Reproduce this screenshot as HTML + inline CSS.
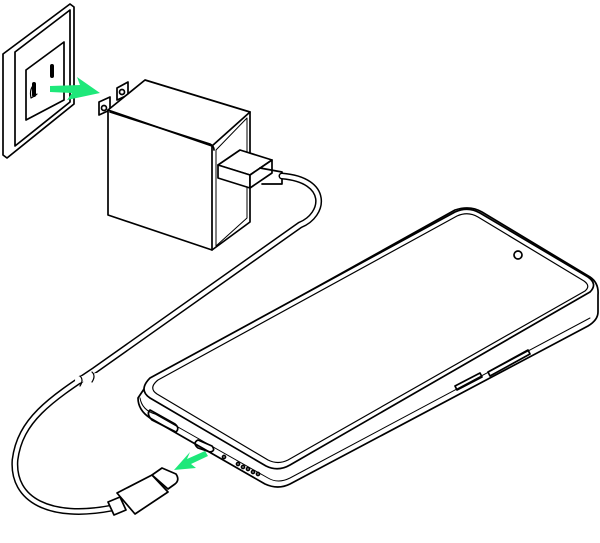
<!DOCTYPE html>
<html><head><style>html,body{margin:0;padding:0;background:#fff}svg{display:block}</style></head><body>
<svg width="600" height="543" viewBox="0 0 600 543" xmlns="http://www.w3.org/2000/svg" fill="none" stroke="#000" stroke-width="1.7" stroke-linejoin="round" stroke-linecap="round">
<!-- outlet plate -->
<path d="M3,54 L70,4 L74,7 L74,104 L7,158 L3,155 Z" fill="#fff"/>
<path d="M15,52 L70,10 L70,102 L15,146 Z"/>
<path d="M26,70 L64,42 L64,100 L26,120 Z"/>
<path d="M34,84 l0,11 M52,66 l0,10" stroke-width="4"/>
<path d="M31,98 q-2,-10 4,-14 M31,98 q4,-2 6,-4" stroke-width="1.2"/>
<!-- green arrow -->
<path d="M50,86 L80,85 L77,77 L100,93 L67,100 L72,93 L50,92 Z" fill="#1ee87a" stroke="none"/>
<!-- prongs -->
<path d="M117,88 L128,82 L128,95 L117,100 Z M99,102 L110,97 L110,110 L99,115 Z" fill="#fff"/>
<circle cx="122" cy="92" r="2.5"/><circle cx="104" cy="108" r="2.5"/>
<!-- charger cube -->
<path d="M108,110 L145,80 L250,112 L250,222 L212,250 L108,215 Z" fill="#fff"/>
<path d="M108,110 L212,146 L250,112 M212,146 L212,250"/>
<path d="M110,112 L210,144 Q214,146 214,150"/>
<path d="M216,150 L247,118 L247,218 L216,246 Z" stroke-width="1"/>
<!-- usb-a plug -->
<path d="M218,165 L240,150 L272,160 L250,175 Z" fill="#fff"/>
<path d="M218,165 L250,175 L250,188 L218,178 Z" fill="#fff"/>
<path d="M250,175 L272,160 L272,173 L250,188 Z" fill="#fff"/>
<path d="M260,168 L282,172 L282,184 L262,184"/>
<!-- cable -->
<path d="M282,176 C330,180 325,215 300,225 L95,370 C50,400 20,420 15,460 C12,500 50,520 112,508" stroke-width="7"/>
<path d="M282,176 C330,180 325,215 300,225 L95,370 C50,400 20,420 15,460 C12,500 50,520 112,508" stroke="#fff" stroke-width="4"/>
<path d="M78,380 l18,-4 M85,392 l18,-4" stroke="#fff" stroke-width="6"/>
<path d="M80,376 q4,4 0,10 M92,372 q4,4 0,10" stroke-width="1.2"/>
<!-- usb-c plug -->
<path d="M108,502 L120,497 L126,510 L114,515 Z" fill="#fff"/>
<path d="M117,493 L152,475 L168,492 L135,514 Z" fill="#fff"/>
<path d="M152,475 L162,468 L176,474 Q180,480 175,484 L168,489 Z" fill="#fff"/>
<!-- green arrow 2 -->
<path d="M205,451 L187,459 L190,452 L174,470 L196,468 L191,464 L208,456 Z" fill="#1ee87a" stroke="none"/>
<!-- phone body side -->
<path d="M150,380 L455,210 Q470,205 482,212 L590,277 Q599,283 598,295 L598,312 Q598,320 588,326 L290,484 Q278,490 265,484 L150,418 Q138,410 138,398 Z" fill="#fff"/>
<path d="M140,398 Q142,410 155,414 L268,478 Q278,484 290,478 L590,318" stroke-width="1"/>
<!-- phone top face -->
<path d="M150,378 L455,212 Q468,206 480,213 L588,277 Q598,284 590,292 L290,465 Q278,472 266,466 L150,398 Q138,390 150,378 Z" fill="#fff"/>
<path d="M158,380 L457,216 Q468,211 478,217 L584,281 Q591,286 585,291 L288,460 Q278,465 268,460 L157,394 Q148,388 158,380 Z" stroke-width="1.2"/>
<circle cx="518" cy="255" r="4"/>
<!-- side buttons -->
<path d="M455,386 L480,373 L482,377 L457,390 Z M488,372 L528,350 L530,354 L490,376 Z"/>
<!-- bottom port, sim, speaker -->
<path d="M150,410 L175,424 Q180,428 176,432 L152,420 Q146,414 150,410 Z"/>
<path d="M198,440 L212,446 Q216,451 210,452 L198,448 Q192,443 198,440 Z"/>
<circle cx="224" cy="457" r="1.5"/>
<circle cx="238" cy="464" r="1.5"/><circle cx="243" cy="467" r="1.5"/><circle cx="248" cy="469" r="1.5"/><circle cx="253" cy="472" r="1.5"/><circle cx="258" cy="474" r="1.5"/>
</svg>
</body></html>
